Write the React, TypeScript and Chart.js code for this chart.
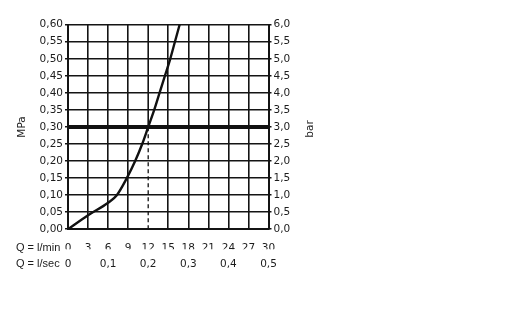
import React, { useEffect, useRef } from 'react';
import { Chart, registerables } from 'chart.js';

Chart.register(...registerables);

// Flow curve (l/min vs MPa)
const flowLpm = [0, 3, 6, 7.3, 8.8, 10.05, 11.1, 12.0, 12.9, 13.7, 14.5, 15.3, 16.0, 16.7];
const pressureMPa = [0, 0.041, 0.078, 0.1, 0.15, 0.2, 0.25, 0.3, 0.35, 0.4, 0.45, 0.5, 0.55, 0.6];

// Reference pressure line (3 bar) and dashed flow marker at 12 l/min
const refLineX = [0, 30];
const refLineY = [0.3, 0.3];
const markerX = [12, 12];
const markerY = [0, 0.3];
const markerGridY = [0.3, 0.6];

// Axis ranges / ticks
const lpmTicks = { min: 0, max: 30, step: 3 };
const lsecTicks = { min: 0, max: 0.5, step: 0.1 };
const mpaTicks = { min: 0, max: 0.6, step: 0.05 };
const barTicks = { min: 0, max: 6, step: 0.5 };

const rowLabels = ['Q = l/min', 'Q = l/sec'];
const leftTitle = 'MPa';
const rightTitle = 'bar';

const FONT = { family: '"DejaVu Sans", sans-serif', size: 10.5 };
const QFONT = '11px "Liberation Sans", sans-serif';
const TXT = '#1c1c1c';
const GRID = '#141414';

const comma = (v: number, d: number) => v.toFixed(d).replace('.', ',');

export default function App() {
  const ref = useRef<HTMLCanvasElement>(null);

  useEffect(() => {
    const textPlugin = {
      id: 'extraText',
      afterDraw(chart: any) {
        const ctx = chart.ctx;
        const sx = chart.scales.x;
        const sx2 = chart.scales.x2;
        const sy2 = chart.scales.y2;
        ctx.save();
        ctx.font = QFONT;
        ctx.fillStyle = TXT;
        ctx.textAlign = 'left';
        ctx.textBaseline = 'middle';
        ctx.fillText(rowLabels[0], 16, sx.top + 19);
        ctx.fillText(rowLabels[1], 16, sx2.top + 15);
        // right axis title, reading bottom-to-top
        ctx.font = `${FONT.size}px ${FONT.family}`;
        ctx.translate(310, (sy2.top + sy2.bottom) / 2 + 2);
        ctx.rotate(-Math.PI / 2);
        ctx.textAlign = 'center';
        ctx.fillText(rightTitle, 0, 0);
        ctx.restore();
      },
    };

    const line = (xs: number[], ys: number[], extra: any) => ({
      data: xs.map((x, i) => ({ x, y: ys[i] })),
      borderColor: '#111',
      pointRadius: 0,
      xAxisID: 'x',
      yAxisID: 'y',
      ...extra,
    });

    const chart = new Chart(ref.current!, {
      type: 'line',
      data: {
        datasets: [
          line(markerX, markerGridY, { borderWidth: 1.6, borderColor: GRID }),
          line(flowLpm, pressureMPa, { borderWidth: 2.4, cubicInterpolationMode: 'monotone' }),
          line(refLineX, refLineY, { borderWidth: 4 }),
          line(markerX, markerY, { borderWidth: 1.3, borderDash: [4, 3] }),
        ],
      },
      options: {
        animation: false,
        responsive: false,
        devicePixelRatio: 1,
        layout: { padding: { top: 24.7, left: 0, right: 0, bottom: 0 } },
        plugins: { legend: { display: false }, tooltip: { enabled: false } },
        scales: {
          x: {
            type: 'linear',
            position: 'bottom',
            min: lpmTicks.min,
            max: lpmTicks.max,
            ticks: {
              stepSize: lpmTicks.step,
              font: FONT,
              color: TXT,
              padding: 13,
              maxRotation: 0,
              callback: (v: any) => String(v),
            },
            grid: {
              color: (c: any) => (c.tick && c.tick.value === markerX[0] ? 'rgba(0,0,0,0)' : GRID),
              lineWidth: 1.6,
              drawTicks: false,
            },
            border: { display: true, color: GRID, width: 2 },
            afterFit: (s: any) => {
              s.height = 20;
            },
          },
          x2: {
            type: 'linear',
            position: 'bottom',
            min: lsecTicks.min,
            max: lsecTicks.max,
            ticks: {
              stepSize: lsecTicks.step,
              font: FONT,
              color: TXT,
              padding: 9,
              maxRotation: 0,
              callback: (v: any) => (v === 0 ? '0' : comma(v, 1)),
            },
            grid: { display: false, drawTicks: false },
            border: { display: false },
            afterFit: (s: any) => {
              s.height = 74.7;
            },
          },
          y: {
            type: 'linear',
            position: 'left',
            min: mpaTicks.min,
            max: mpaTicks.max,
            ticks: {
              stepSize: mpaTicks.step,
              font: FONT,
              color: TXT,
              padding: 2,
              callback: (v: any) => comma(v, 2),
            },
            grid: { color: GRID, lineWidth: 1.6, tickLength: 3, drawTicks: true },
            border: { display: true, color: GRID, width: 2 },
            title: {
              display: true,
              text: leftTitle,
              font: FONT,
              color: TXT,
              padding: { top: 16.4, bottom: 0 },
            },
            afterFit: (s: any) => {
              s.width = 68;
            },
          },
          y2: {
            type: 'linear',
            position: 'right',
            min: barTicks.min,
            max: barTicks.max,
            ticks: {
              stepSize: barTicks.step,
              font: FONT,
              color: TXT,
              padding: 2,
              callback: (v: any) => comma(v, 1),
            },
            grid: { color: GRID, lineWidth: 1.6, tickLength: 3, drawOnChartArea: false, drawTicks: true },
            border: { display: true, color: GRID, width: 2 },
            afterFit: (s: any) => {
              s.width = 239.5;
            },
          },
        },
      } as any,
      plugins: [textPlugin],
    });
    return () => chart.destroy();
  }, []);

  return (
    <div style={{ position: 'absolute', left: 0, top: 0, width: 508, height: 324, background: '#fff' }}>
      <canvas ref={ref} width={508} height={324} style={{ display: 'block' }} />
    </div>
  );
}
